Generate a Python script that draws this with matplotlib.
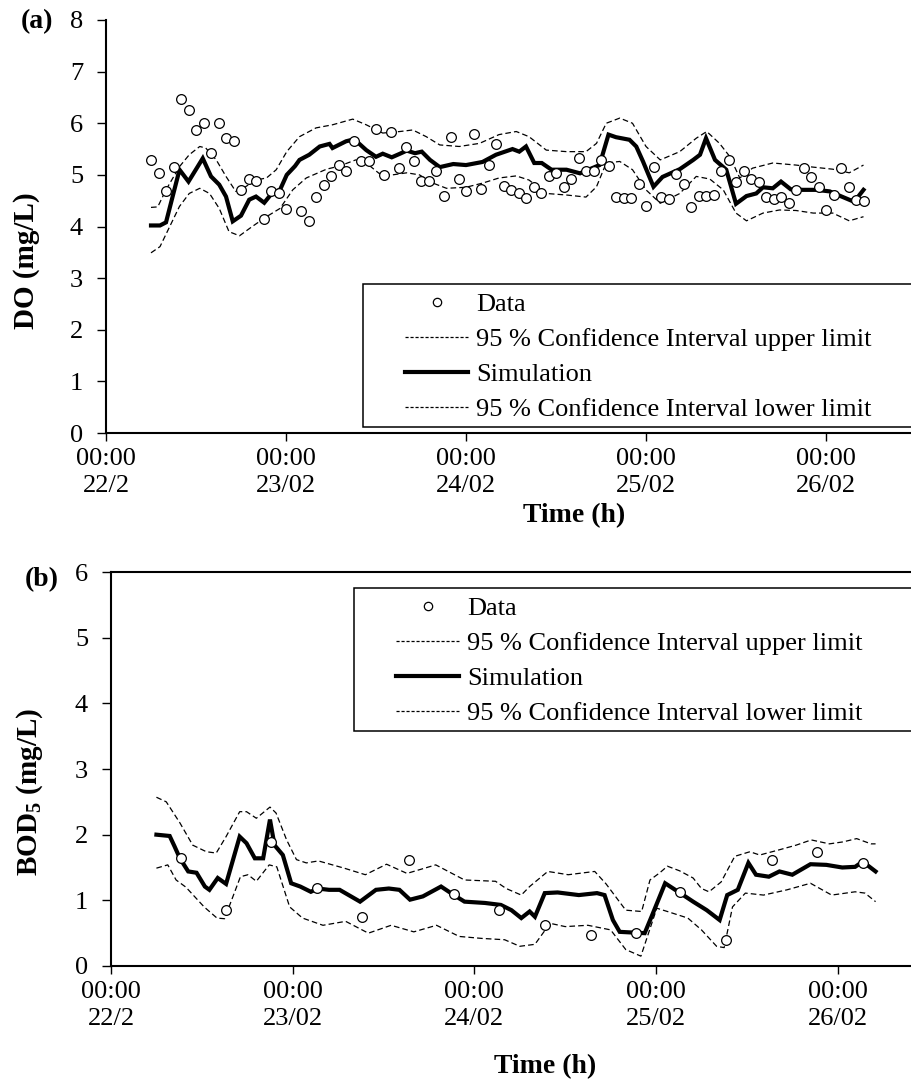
import numpy as np
import matplotlib.pyplot as plt
from matplotlib.lines import Line2D
from matplotlib.patches import Rectangle

plt.rcParams['font.family'] = 'Liberation Serif'
plt.rcParams['mathtext.fontset'] = 'custom'
plt.rcParams['mathtext.rm'] = 'Liberation Serif'
plt.rcParams['mathtext.bf'] = 'Liberation Serif:bold'

W, H = 911, 1084

# time axis in hours after 22/02 00:00
tick_hours = [0, 24, 48, 72, 96]
tick_labels = ["00:00\n22/2", "00:00\n23/02", "00:00\n24/02", "00:00\n25/02", "00:00\n26/02"]

# ---- (a) dissolved oxygen ----
do_obs_t = np.r_[6:25, 26:102]
do_obs = [5.29, 5.03, 4.68, 5.15, 6.47, 6.26, 5.87, 6.00, 5.43, 6.01, 5.71, 5.65, 4.71, 4.92, 4.89,
          4.14, 4.68, 4.64, 4.34, 4.30, 4.11, 4.57, 4.81, 4.98, 5.19, 5.08, 5.65, 5.26, 5.26, 5.89,
          4.99, 5.83, 5.13, 5.54, 5.26, 4.88, 4.88, 5.08, 4.59, 5.74, 4.92, 4.69, 5.79, 4.73, 5.19,
          5.60, 4.79, 4.71, 4.64, 4.55, 4.77, 4.64, 4.97, 5.03, 4.76, 4.92, 5.32, 5.08, 5.08, 5.28,
          5.17, 4.58, 4.55, 4.55, 4.83, 4.40, 5.15, 4.57, 4.53, 5.02, 4.83, 4.37, 4.59, 4.59, 4.61,
          5.08, 5.28, 4.86, 5.08, 4.92, 4.87, 4.57, 4.53, 4.58, 4.45, 4.71, 5.13, 4.95, 4.76, 4.32,
          4.61, 5.13, 4.77, 4.52, 4.50]

do_sim_t = [6, 7.2, 8.0, 9.8, 11.0, 12.9, 14.0, 15.1, 16.0, 16.9, 18.0, 19.1, 20.0, 21.1, 22.1,
            23.2, 24.1, 25.2, 25.8, 27.1, 28.5, 29.8, 30.2, 32.0, 33.1, 34.7, 36.0, 36.9, 38.1, 39.2,
            40.1, 41.2, 42.1, 43.2, 44.5, 46.3, 48.0, 50.2, 52.0, 54.2, 55.1, 56.0, 57.1, 58.1, 59.4,
            61.4, 63.2, 64.5, 65.8, 67.0, 68.0, 69.8, 70.7, 71.6, 73.0, 74.2, 76.5, 78.3, 79.2, 80.0,
            81.2, 82.7, 84.0, 85.4, 86.7, 87.6, 88.9, 90.0, 91.3, 92.9, 94.7, 96.5, 97.6, 99.4, 100.3, 101]
do_sim = [4.02, 4.02, 4.08, 5.10, 4.87, 5.32, 4.97, 4.81, 4.58, 4.10, 4.21, 4.52, 4.58, 4.46, 4.64,
          4.71, 5.00, 5.17, 5.29, 5.39, 5.55, 5.60, 5.52, 5.65, 5.69, 5.48, 5.35, 5.41, 5.34, 5.41,
          5.47, 5.42, 5.45, 5.29, 5.15, 5.21, 5.19, 5.25, 5.39, 5.50, 5.45, 5.55, 5.23, 5.23, 5.10,
          5.10, 5.03, 5.11, 5.19, 5.78, 5.73, 5.68, 5.55, 5.26, 4.77, 4.96, 5.11, 5.29, 5.39, 5.71,
          5.29, 5.10, 4.44, 4.59, 4.64, 4.76, 4.74, 4.87, 4.72, 4.71, 4.71, 4.68, 4.61, 4.50, 4.58, 4.71]

do_up_t = [6, 6.9, 8.0, 9.8, 11.1, 12.5, 13.3, 14.7, 16.0, 17.3, 18.6, 20.0, 21.4, 22.7, 24.1,
           25.8, 28.0, 30.2, 32.9, 34.7, 36.9, 39.2, 40.9, 42.7, 44.5, 47.1, 49.8, 52.4, 54.7, 56.4,
           58.7, 61.4, 64.0, 65.4, 66.7, 68.5, 70.2, 72.0, 73.9, 76.5, 78.7, 80.1, 81.8, 83.2, 84.5,
           86.2, 88.9, 92.0, 94.3, 96.9, 99.1, 101]
do_up = [4.37, 4.38, 4.71, 5.16, 5.39, 5.55, 5.52, 5.29, 4.97, 4.68, 4.77, 4.90, 4.94, 5.10, 5.45,
         5.74, 5.91, 5.97, 6.08, 5.97, 5.81, 5.84, 5.87, 5.74, 5.58, 5.55, 5.61, 5.78, 5.84, 5.74,
         5.48, 5.45, 5.45, 5.61, 6.00, 6.10, 6.00, 5.55, 5.29, 5.45, 5.71, 5.84, 5.61, 5.35, 4.94,
         5.13, 5.23, 5.19, 5.15, 5.11, 5.04, 5.19]

do_lo_t = [6, 7.2, 8.5, 9.8, 11.1, 12.5, 13.8, 15.1, 16.4, 17.8, 19.5, 21.4, 23.2, 24.9, 26.7,
           29.4, 31.1, 33.3, 34.7, 36.4, 38.2, 40.1, 41.8, 43.6, 45.4, 48.0, 50.2, 52.4, 54.7, 56.4,
           58.7, 61.4, 64.0, 65.4, 66.7, 68.5, 70.2, 72.0, 73.9, 76.5, 78.7, 80.5, 82.3, 84.0, 85.4,
           87.6, 89.8, 92.0, 94.3, 96.9, 99.1, 101]
do_lo = [3.49, 3.61, 4.00, 4.39, 4.64, 4.74, 4.64, 4.35, 3.90, 3.82, 4.00, 4.19, 4.35, 4.71, 4.94,
         5.11, 5.17, 5.29, 5.23, 5.03, 5.00, 5.04, 5.00, 4.84, 4.74, 4.76, 4.84, 4.94, 4.98, 4.90,
         4.64, 4.61, 4.57, 4.77, 5.23, 5.26, 5.10, 4.71, 4.45, 4.64, 4.97, 4.92, 4.71, 4.26, 4.11,
         4.26, 4.32, 4.31, 4.26, 4.26, 4.11, 4.19]

# ---- (b) BOD5 ----
bod_obs_t = [9.3, 15.2, 21.1, 27.2, 33.2, 39.3, 45.3, 51.3, 57.3, 63.4, 69.3, 75.2, 81.3, 87.3, 93.2, 99.3]
bod_obs = [1.64, 0.85, 1.89, 1.19, 0.75, 1.62, 1.10, 0.86, 0.62, 0.47, 0.50, 1.12, 0.40, 1.62, 1.73, 1.57]

bod_sim_t = [6, 7.75, 8.4, 9.1, 10.2, 11.3, 12.4, 13.0, 14.1, 15.2, 17.0, 17.9, 19.0, 20.1, 21.0,
             21.6, 22.7, 23.8, 25.0, 26.4, 27.3, 28.8, 30.2, 32.9, 35.0, 36.7, 38.1, 39.5, 41.2, 43.6,
             45.3, 46.7, 49.4, 51.5, 52.9, 54.2, 55.3, 56.0, 57.3, 59.0, 61.8, 64.2, 65.2, 66.3, 67.2,
             70.5, 71.4, 73.2, 75.2, 76.9, 78.7, 80.4, 81.4, 82.8, 84.2, 85.2, 86.9, 88.3, 90.0, 92.4,
             94.5, 96.6, 98.3, 99.3, 101]
bod_sim = [2.00, 1.98, 1.82, 1.64, 1.44, 1.42, 1.21, 1.16, 1.34, 1.25, 1.97, 1.87, 1.64, 1.64, 2.23,
           1.84, 1.69, 1.26, 1.21, 1.13, 1.18, 1.16, 1.16, 0.98, 1.16, 1.18, 1.16, 1.01, 1.06, 1.21,
           1.08, 0.98, 0.96, 0.93, 0.85, 0.73, 0.83, 0.75, 1.11, 1.12, 1.08, 1.11, 1.08, 0.70, 0.52,
           0.50, 0.75, 1.26, 1.11, 0.98, 0.85, 0.70, 1.08, 1.16, 1.57, 1.39, 1.36, 1.44, 1.39, 1.55,
           1.54, 1.50, 1.51, 1.59, 1.44]

bod_up_t = [6, 7.3, 9.1, 10.8, 12.6, 13.9, 15.2, 17.0, 17.9, 19.2, 21.0, 21.8, 23.2, 24.5, 25.8,
            27.4, 30.8, 33.6, 36.4, 39.1, 42.9, 46.7, 50.8, 52.2, 54.2, 55.3, 57.7, 60.4, 63.9, 65.4,
            68.0, 70.1, 71.2, 72.5, 73.5, 75.1, 76.9, 78.0, 79.0, 80.6, 82.4, 84.4, 85.7, 88.3, 90.5,
            92.5, 94.9, 96.7, 98.5, 100.4, 101]
bod_up = [2.57, 2.50, 2.18, 1.84, 1.74, 1.72, 1.97, 2.35, 2.35, 2.25, 2.42, 2.33, 1.92, 1.62, 1.57,
          1.60, 1.49, 1.39, 1.55, 1.41, 1.54, 1.31, 1.29, 1.18, 1.08, 1.21, 1.44, 1.39, 1.44, 1.25,
          0.85, 0.83, 1.31, 1.42, 1.52, 1.45, 1.34, 1.18, 1.13, 1.28, 1.67, 1.74, 1.69, 1.77, 1.84,
          1.92, 1.86, 1.89, 1.94, 1.86, 1.86]

bod_lo_t = [6, 7.5, 8.6, 9.9, 12.3, 14.0, 15.0, 17.1, 18.1, 19.2, 20.9, 21.9, 23.6, 25.3, 28.0,
            31.0, 34.0, 37.0, 40.0, 43.0, 46.0, 49.0, 52.0, 54.0, 56.0, 58.0, 60.0, 63.0, 66.0, 68.0,
            70.0, 72.1, 73.5, 76.2, 78.0, 80.0, 81.0, 82.1, 83.8, 86.2, 89.3, 92.4, 95.2, 98.3, 99.6, 101]
bod_lo = [1.49, 1.54, 1.31, 1.20, 0.90, 0.73, 0.72, 1.36, 1.39, 1.29, 1.54, 1.51, 0.90, 0.73, 0.62,
          0.68, 0.50, 0.62, 0.52, 0.62, 0.45, 0.42, 0.40, 0.30, 0.33, 0.65, 0.60, 0.62, 0.55, 0.25,
          0.15, 0.88, 0.83, 0.73, 0.55, 0.30, 0.28, 0.90, 1.11, 1.08, 1.16, 1.26, 1.08, 1.13, 1.11, 0.98]

labels = ["Data", "95 % Confidence Interval upper limit", "Simulation",
          "95 % Confidence Interval lower limit"]


def box(x0, y0, x1, y1):
    # pixel box (top-left origin) -> figure fraction rect
    return [x0 / W, 1 - y1 / H, (x1 - x0) / W, (y1 - y0) / H]


dash = (0, (4.5, 2.5))
ci_kw = dict(color='black', lw=0.9, ls=dash)
sim_kw = dict(color='black', lw=3.0, solid_joinstyle='miter')
obs_kw = dict(ls='none', marker='o', ms=7, mfc='white', mec='black', mew=0.9)


def panel(ax, ot, ov, st, sv, ut, uv, lt, lv):
    ax.plot(ut, uv, **ci_kw)
    ax.plot(lt, lv, **ci_kw)
    ax.plot(st, sv, **sim_kw)
    ax.plot(ot, ov, zorder=5, **obs_kw)
    ax.set_xticks(tick_hours)
    ax.set_xticklabels(tick_labels, fontsize=19, linespacing=1.25)
    ax.tick_params(axis='y', labelsize=19, direction='out', length=6.5, width=1, pad=10)
    ax.tick_params(axis='x', direction='out', length=6, width=1, pad=5)
    ax.spines['right'].set_visible(False)
    for s in ('left', 'bottom', 'top'):
        ax.spines[s].set_linewidth(1.5)


def legend(fig, ax, bx0, by0, by1):
    hs = [Line2D([], [], ls='none', marker='o', ms=6, mfc='white', mec='black', mew=0.9),
          Line2D([], [], color='black', lw=0.9, ls=(0, (2.5, 1.5))),
          Line2D([], [], color='black', lw=3.0),
          Line2D([], [], color='black', lw=0.9, ls=(0, (2.5, 1.5)))]
    frame = Rectangle((bx0 / W, 1 - by1 / H), (940 - bx0) / W, (by1 - by0) / H,
                      transform=fig.transFigure, fill=True, fc='white', ec='black', lw=1.1,
                      zorder=6, clip_on=False)
    ax.add_patch(frame)
    leg = ax.legend(hs, labels, loc='upper left', bbox_to_anchor=((bx0 + 42) / W, 1 - (by0 + 9) / H),
                    bbox_transform=fig.transFigure, frameon=False, borderpad=0, borderaxespad=0,
                    handlelength=2.4, handletextpad=0.3, labelspacing=0.43, fontsize=19)
    leg.set_zorder(7)


fig = plt.figure(figsize=(W / 100, H / 100), dpi=100)

ax_a = fig.add_axes(box(106, 20, W, 433))
panel(ax_a, do_obs_t, do_obs, do_sim_t, do_sim, do_up_t, do_up, do_lo_t, do_lo)
ax_a.spines['top'].set_visible(False)
ax_a.set_xlim(0, (W - 106) / 7.5)
ax_a.set_ylim(0, 8)
ax_a.set_yticks(range(0, 9))
legend(fig, ax_a, 363, 284, 427)

ax_b = fig.add_axes(box(111, 572, W, 966))
panel(ax_b, bod_obs_t, bod_obs, bod_sim_t, bod_sim, bod_up_t, bod_up, bod_lo_t, bod_lo)
ax_b.set_xlim(0, (W - 111) / 7.57)
ax_b.set_ylim(0, 6)
ax_b.set_yticks(range(0, 7))
legend(fig, ax_b, 354, 588, 731)

# panel letters and axis titles
bold = dict(fontsize=20, fontweight='bold', ha='center', va='center')
fig.text(37 / W, 1 - 22 / H, "(a)", **bold)
fig.text(42 / W, 1 - 580 / H, "(b)", **bold)
fig.text(27 / W, 1 - 261 / H, "DO (mg/L)", rotation=90, fontsize=21, fontweight='bold',
         ha='center', va='center')
fig.text(30 / W, 1 - 792 / H, r"BOD$_\mathregular{5}$ (mg/L)", rotation=90, fontsize=21,
         fontweight='bold', ha='center', va='center')
fig.text(574 / W, 1 - 516 / H, "Time (h)", **bold)
fig.text(545 / W, 1 - 1067 / H, "Time (h)", **bold)

fig.savefig("out.png", dpi=100)
